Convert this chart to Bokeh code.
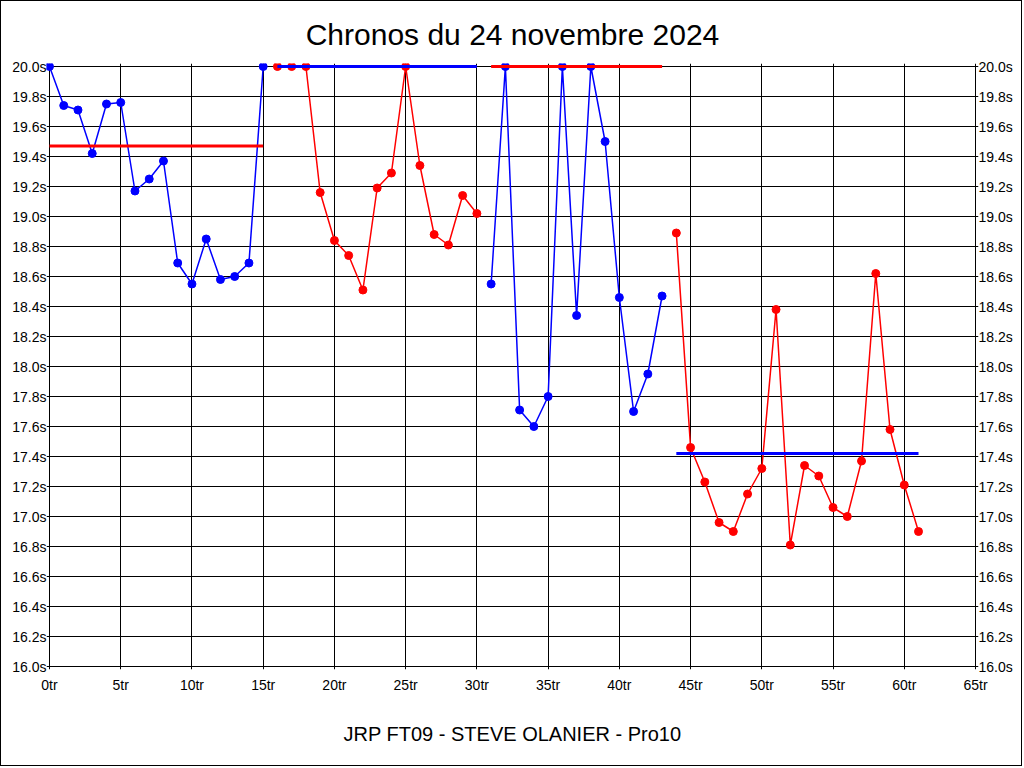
from bokeh.plotting import figure
from bokeh.models import (Range1d, LinearAxis, FixedTicker, PrintfTickFormatter, Title)
from bokeh.embed import file_html
from bokeh.resources import INLINE

# ---- data ----
seg1_laps = [0, 1, 2, 3, 4, 5, 6, 7, 8, 9, 10, 11, 12, 13, 14, 15]
seg1_times = [20.0, 19.74, 19.71, 19.42, 19.75, 19.76, 19.17, 19.25, 19.37,
              18.69, 18.55, 18.85, 18.58, 18.60, 18.69, 20.0]
seg1_avg = 19.47

seg2_laps = [16, 17, 18, 19, 20, 21, 22, 23, 24, 25, 26, 27, 28, 29, 30]
seg2_times = [20.0, 20.0, 20.0, 19.16, 18.84, 18.74, 18.51, 19.19, 19.29,
              20.0, 19.34, 18.88, 18.81, 19.14, 19.02]
seg2_avg = 20.0

seg3_laps = [31, 32, 33, 34, 35, 36, 37, 38, 39, 40, 41, 42, 43]
seg3_times = [18.55, 20.0, 17.71, 17.60, 17.80, 20.0, 18.34, 20.0, 19.50,
              18.46, 17.70, 17.95, 18.47]
seg3_avg = 20.0

seg4_laps = [44, 45, 46, 47, 48, 49, 50, 51, 52, 53, 54, 55, 56, 57, 58,
             59, 60, 61]
seg4_times = [18.89, 17.46, 17.23, 16.96, 16.90, 17.15, 17.32, 18.38, 16.81,
              17.34, 17.27, 17.06, 17.00, 17.37, 18.62, 17.58, 17.21, 16.90]
seg4_avg = 17.42

x_ticks = [0, 5, 10, 15, 20, 25, 30, 35, 40, 45, 50, 55, 60, 65]
y_ticks = [16.0, 16.2, 16.4, 16.6, 16.8, 17.0, 17.2, 17.4, 17.6, 17.8, 18.0,
           18.2, 18.4, 18.6, 18.8, 19.0, 19.2, 19.4, 19.6, 19.8, 20.0]

title_text = "Chronos du 24 novembre 2024"
footer_text = "JRP FT09 - STEVE OLANIER - Pro10"

BLUE = "#0000FF"
RED = "#FF0000"
FONT = "Liberation Sans"

# The chart area (0..65 x 16..20) is 926 x 600 px; a small invisible
# margin lets the markers on the edges show whole, as in the original.
X_MIN, X_MAX = x_ticks[0], x_ticks[-1]
Y_MIN, Y_MAX = y_ticks[0], y_ticks[-1]
AREA_W, AREA_H, PAD = 926, 600, 3
x_pad = PAD * (X_MAX - X_MIN) / AREA_W
y_pad = PAD * (Y_MAX - Y_MIN) / AREA_H

p = figure(width=1022, height=766, output_backend="svg",
           toolbar_location=None,
           x_range=Range1d(X_MIN - x_pad, X_MAX + x_pad),
           y_range=Range1d(Y_MIN - y_pad, Y_MAX + y_pad),
           min_border_left=45, min_border_right=45, min_border_top=62,
           min_border_bottom=98, background_fill_color="white",
           border_fill_color="white", title=None)
p.styles = {"border": "1px solid black"}

p.outline_line_color = None

# axes
p.xaxis.ticker = FixedTicker(ticks=x_ticks)
p.xaxis.formatter = PrintfTickFormatter(format="%dtr")
p.yaxis.ticker = FixedTicker(ticks=y_ticks)
p.yaxis.formatter = PrintfTickFormatter(format="%.1fs")

right_axis = LinearAxis(ticker=FixedTicker(ticks=y_ticks),
                        formatter=PrintfTickFormatter(format="%.1fs"))
p.add_layout(right_axis, "right")

for ax in [p.xaxis[0], p.yaxis[0], right_axis]:
    ax.axis_line_color = None
    ax.major_tick_line_color = None
    ax.minor_tick_line_color = None
    ax.major_tick_out = 0
    ax.major_tick_in = 0
    ax.minor_tick_out = 0
    ax.minor_tick_in = 0
    ax.major_label_text_font = FONT
    ax.major_label_text_font_size = "14px"
    ax.major_label_text_color = "black"
p.xaxis.major_label_standoff = 7
p.yaxis[0].major_label_standoff = 0
right_axis.major_label_standoff = 0

# footer text under the x axis
p.xaxis.axis_label = footer_text
p.xaxis.axis_label_text_font = FONT
p.xaxis.axis_label_text_font_size = "20px"
p.xaxis.axis_label_text_font_style = "normal"
p.xaxis.axis_label_text_color = "black"
p.xaxis.axis_label_standoff = 27

p.xgrid.ticker = FixedTicker(ticks=x_ticks)
p.ygrid.ticker = FixedTicker(ticks=y_ticks)
p.xgrid.grid_line_color = "black"
p.ygrid.grid_line_color = "black"
p.xgrid.grid_line_width = 1
p.ygrid.grid_line_width = 1

# title
t = Title(text=title_text, align="center", vertical_align="top",
          text_font=FONT, text_font_size="30px", text_font_style="normal",
          text_color="black", standoff=21)
p.add_layout(t, "above")

# series
segments = [
    (seg1_laps, seg1_times, BLUE, seg1_avg, RED),
    (seg2_laps, seg2_times, RED, seg2_avg, BLUE),
    (seg3_laps, seg3_times, BLUE, seg3_avg, RED),
    (seg4_laps, seg4_times, RED, seg4_avg, BLUE),
]
for laps, times, col, avg, avg_col in segments:
    p.line(laps, times, line_color=col, line_width=1.5)
    p.scatter(laps, times, size=8, fill_color=col, line_color=col)

for laps, times, col, avg, avg_col in segments:
    p.line([laps[0], laps[-1]], [avg, avg], line_color=avg_col, line_width=3)

open("out.html", "w").write(file_html(p, INLINE))
